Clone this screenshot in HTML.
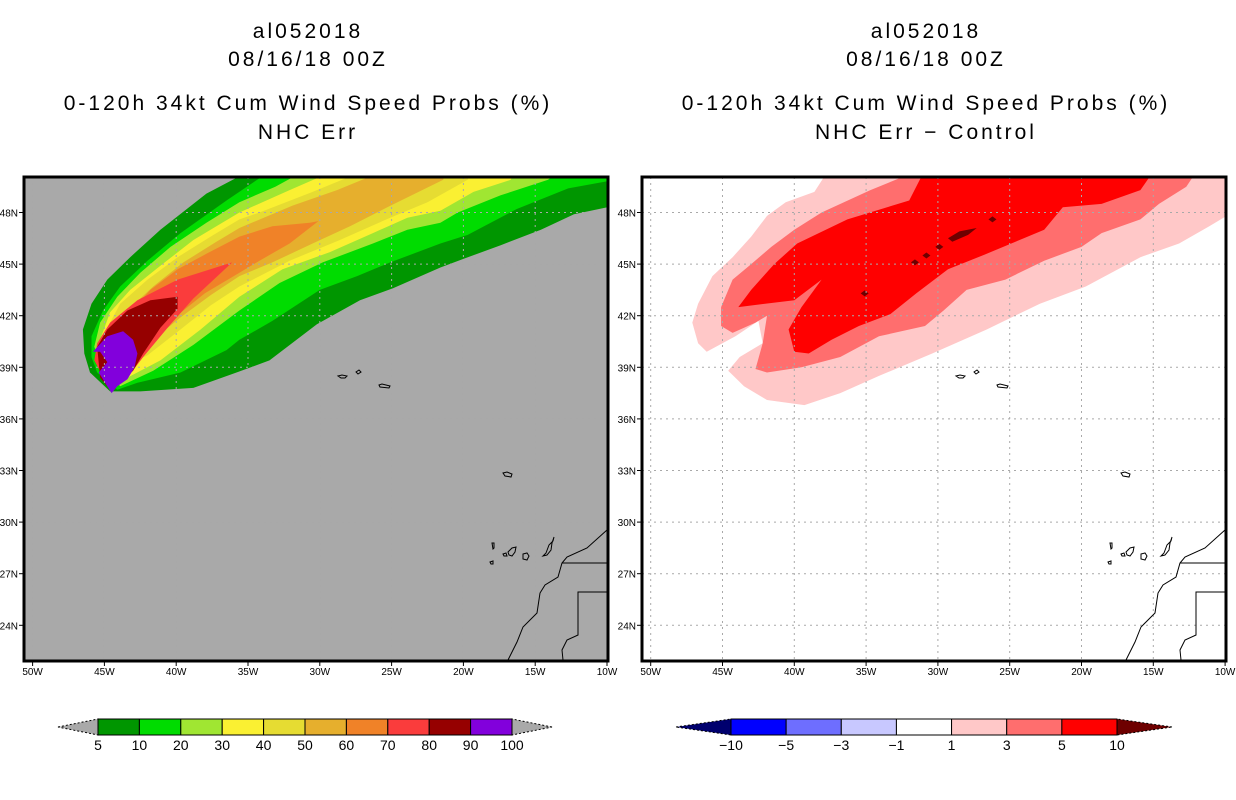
<!DOCTYPE html>
<html><head><meta charset="utf-8">
<style>
html,body{margin:0;padding:0;background:#fff;}
svg{display:block;}
text{font-family:"Liberation Sans",sans-serif;fill:#000;}
.ttl{font-size:21px;text-anchor:middle;letter-spacing:3px;}
.tk{font-size:10px;}
.cb{font-size:14px;text-anchor:middle;}
</style></head>
<body>
<svg id="chart" width="1236" height="800" viewBox="0 0 1236 800" xmlns="http://www.w3.org/2000/svg">
<defs>
<clipPath id="clipL"><rect x="24" y="177" width="584" height="484"/></clipPath>
<clipPath id="clipR"><rect x="642" y="177" width="584" height="484"/></clipPath>
</defs>
<g>
<text class="ttl" x="308" y="38">al052018</text>
<text class="ttl" x="308" y="66">08/16/18 00Z</text>
<text class="ttl" x="308" y="110">0-120h 34kt Cum Wind Speed Probs (%)</text>
<text class="ttl" x="308" y="139">NHC Err</text>
</g>
<g>
<text class="ttl" x="926" y="38">al052018</text>
<text class="ttl" x="926" y="66">08/16/18 00Z</text>
<text class="ttl" x="926" y="110">0-120h 34kt Cum Wind Speed Probs (%)</text>
<text class="ttl" x="926" y="139">NHC Err − Control</text>
</g>
<rect x="24" y="177" width="584" height="484" fill="#a9a9a9"/>
<rect x="642" y="177" width="584" height="484" fill="#ffffff"/>
<g id="leftFill" clip-path="url(#clipL)"></g>
<g id="rightFill" clip-path="url(#clipR)"></g>
<g id="grids"></g>
<g id="coasts"></g>
<g id="axes"></g>
<g id="cbars"></g>
</svg>
<script>
// ---- data (lon, lat) ----
const leftLevels = [5,10,20,30,40,50,60,70,80,90,100];
const leftColors = ["#009600","#00dc00","#a0e632","#faf032","#e6dc32","#e6af2d","#f08228","#fa3c3c","#960000","#8200dc"];
const poly5 = [[-34.7,50.5],[-37.9,49.1],[-41.1,47.0],[-43.2,45.4],[-44.8,44.1],[-45.9,42.7],[-46.5,41.2],[-46.4,39.8],[-46.0,38.7],[-44.6,37.6],[-42.5,37.6],[-38.8,37.8],[-35.8,38.7],[-33.5,39.4],[-30.2,41.5],[-27.2,42.9],[-24.9,43.6],[-21.6,44.8],[-20.0,45.3],[-17.4,46.1],[-14.6,47.0],[-12.3,47.9],[-9.4,48.4],[-9.4,50.5]];
const poly10 = [[-33.3,50.5],[-36.5,48.7],[-39.7,46.8],[-42.0,45.2],[-43.9,43.7],[-45.1,42.3],[-45.9,40.8],[-45.9,39.6],[-45.5,38.7],[-44.1,37.7],[-42.7,38.1],[-39.7,38.7],[-36.5,40.0],[-35.6,40.6],[-33.3,41.7],[-30.0,43.5],[-27.4,44.3],[-25.1,45.1],[-21.6,46.2],[-19.7,46.7],[-16.3,48.2],[-12.7,49.4],[-9.4,49.9],[-9.4,50.5]];
const poly20 = [[-30.9,50.5],[-33.1,49.5],[-35.6,48.6],[-37.9,47.4],[-40.4,46.0],[-42.5,44.5],[-44.1,43.1],[-45.3,41.6],[-45.7,40.2],[-45.3,39.3],[-43.9,37.9],[-41.6,38.8],[-38.8,40.3],[-35.6,42.3],[-32.8,43.9],[-29.8,45.1],[-26.3,46.2],[-23.9,47.0],[-21.6,47.4],[-20.4,48.0],[-17.4,49.0],[-14.1,49.9],[-13.2,50.5]];
const poly30 = [[-28.8,50.5],[-32.1,49.3],[-35.6,48.0],[-38.8,46.4],[-41.1,44.9],[-43.2,43.5],[-44.6,42.2],[-45.3,40.6],[-45.3,39.6],[-44.8,38.8],[-43.4,38.4],[-41.1,39.4],[-38.3,41.2],[-35.6,43.1],[-32.6,44.7],[-29.3,45.7],[-26.3,46.8],[-23.9,47.7],[-21.6,48.1],[-19.3,49.2],[-16.7,49.9],[-16.4,50.5]];
const poly40 = [[-26.7,50.5],[-30.5,49.2],[-34.2,48.0],[-35.6,47.6],[-37.4,46.7],[-39.9,45.4],[-42.0,44.1],[-43.9,42.7],[-44.8,41.3],[-45.2,40.2],[-45.0,39.3],[-44.1,38.8],[-42.0,39.7],[-39.7,41.2],[-37.6,42.6],[-35.6,43.7],[-32.1,45.2],[-28.6,46.4],[-25.1,47.7],[-22.5,48.6],[-19.7,49.9],[-19.5,50.5]];
const poly50 = [[-25.3,50.5],[-28.8,49.3],[-31.9,48.4],[-35.6,47.1],[-37.2,46.3],[-39.5,45.1],[-41.6,43.7],[-43.4,42.3],[-44.4,41.0],[-44.8,40.0],[-44.4,39.3],[-43.4,39.5],[-41.6,40.6],[-39.7,41.9],[-37.6,43.2],[-35.6,44.3],[-33.3,45.1],[-30.5,46.2],[-27.9,47.2],[-25.3,48.3],[-21.4,49.9],[-21.3,50.5]];
const poly60 = [[-30.1,47.5],[-30.7,47.4],[-33.3,47.2],[-35.6,46.6],[-37.9,45.6],[-39.9,44.7],[-41.8,43.5],[-43.2,42.2],[-44.3,40.9],[-44.6,39.7],[-44.3,39.0],[-43.2,39.1],[-41.8,40.3],[-40.1,41.9],[-38.0,43.3],[-35.6,44.5],[-34.2,45.2],[-32.1,46.2]];
const poly70 = [[-36.1,45.1],[-39.9,44.1],[-42.7,42.9],[-44.6,41.6],[-45.5,40.4],[-45.7,39.4],[-45.0,38.3],[-44.4,37.8],[-43.4,38.4],[-42.3,39.6],[-40.6,41.3],[-38.8,43.0]];
const poly80 = [[-39.9,43.1],[-39.9,42.4],[-41.1,41.3],[-42.3,39.8],[-43.0,38.8],[-43.9,38.1],[-44.6,37.7],[-45.3,38.4],[-45.5,40.2],[-44.8,41.2],[-43.4,42.3],[-41.8,42.9]];
const poly90 = [[-43.7,41.1],[-43.0,40.6],[-42.7,39.8],[-42.9,39.0],[-43.4,38.3],[-44.1,37.9],[-44.5,37.5],[-45.1,38.3],[-45.4,38.7],[-44.8,39.3],[-45.3,39.9],[-45.8,39.9],[-44.8,40.8]];

const rightLevels = [-10,-5,-3,-1,1,3,5,10];
const rightColors = ["#0000ff","#6e6eff","#c8c8ff","#ffffff","#ffc8c8","#ff6e6e","#ff0000"];
const diff1 = [[-37.6,50.5],[-38.6,49.2],[-40.6,48.6],[-41.9,47.8],[-43.0,46.6],[-44.3,45.4],[-45.7,44.3],[-46.7,42.7],[-47.1,41.6],[-46.7,40.4],[-46.1,39.9],[-44.1,40.8],[-42.5,41.7],[-42.2,40.4],[-43.8,39.6],[-44.6,38.8],[-43.5,37.9],[-41.9,37.1],[-39.3,36.8],[-36.8,37.5],[-34.1,38.5],[-30.4,39.8],[-26.6,41.2],[-22.9,42.7],[-19.7,43.7],[-15.9,45.4],[-13.2,46.2],[-11.1,47.2],[-9.5,48.0],[-9.4,50.5]];
const diff3 = [[-31.2,50.5],[-34.7,49.3],[-38.1,48.0],[-40.0,47.0],[-41.6,46.0],[-43.0,45.0],[-44.3,44.1],[-45.1,42.5],[-45.1,41.4],[-44.3,41.0],[-42.7,41.6],[-41.9,42.0],[-42.2,40.4],[-42.7,38.9],[-41.9,38.7],[-39.5,39.0],[-36.8,39.6],[-34.1,40.8],[-30.9,41.4],[-29.6,42.3],[-28.0,43.5],[-25.3,44.1],[-22.6,45.2],[-20.0,46.0],[-18.6,46.8],[-15.9,47.6],[-14.6,48.5],[-12.7,49.5],[-11.9,50.5]];
const diff5 = [[-14.9,50.5],[-15.9,49.3],[-18.6,48.5],[-21.3,48.3],[-22.6,47.0],[-26.6,45.6],[-29.3,44.7],[-31.5,43.3],[-33.3,42.1],[-35.5,41.4],[-37.4,40.6],[-39.0,39.8],[-40.0,39.9],[-40.4,41.2],[-39.5,42.5],[-38.1,44.1],[-40.0,42.9],[-43.9,42.5],[-43.0,43.5],[-41.4,45.0],[-39.8,46.2],[-36.3,47.6],[-32.0,48.7],[-30.9,50.5]];
const diff10 = [[-29.3,46.5],[-28.5,46.9],[-27.3,47.1],[-27.9,46.7],[-29.0,46.3]];
const diff10Spots = [[-31.6,45.1],[-30.8,45.5],[-29.9,46.0],[-26.2,47.6],[-35.1,43.3]];

const latTicks = [24,27,30,33,36,39,42,45,48];
const lonTicks = [-50,-45,-40,-35,-30,-25,-20,-15,-10];

// ---- axes ----
const NS = "http://www.w3.org/2000/svg";
function xL(lon){ return 32.6 + (lon + 50) * 14.36; }
function xR(lon){ return 650.7 + (lon + 50) * 14.36; }
function yLat(lat){ return 212.5 + (48 - lat) * 17.2; }
function mk(tag, attrs, parent){
  const e = document.createElementNS(NS, tag);
  for (const k in attrs) e.setAttribute(k, attrs[k]);
  parent.appendChild(e); return e;
}
function pts(poly, xf){ return poly.map(p => xf(p[0]).toFixed(1) + "," + yLat(p[1]).toFixed(1)).join(" "); }

const leftFill = document.getElementById("leftFill");
const leftPolys = [poly5,poly10,poly20,poly30,poly40,poly50,poly60,poly70,poly80,poly90];
leftPolys.forEach((poly, i) => {
  const e = mk("polygon", {points: pts(poly, xL), fill: leftColors[i]}, leftFill);
  
  
});

const rightFill = document.getElementById("rightFill");
[[diff1,"#ffc8c8",1],[diff3,"#ff6e6e",3],[diff5,"#ff0000",5],[diff10,"#6e0000",10]].forEach(d => {
  const e = mk("polygon", {points: pts(d[0], xR), fill: d[1]}, rightFill);
  
  
});
diff10Spots.forEach(s => {
  const cx = xR(s[0]), cy = yLat(s[1]);
  const e = mk("polygon", {points: `${cx-4},${cy} ${cx},${cy-3} ${cx+4},${cy} ${cx},${cy+3}`, fill: "#6e0000"}, rightFill);
  
  
});

// grids
const grids = document.getElementById("grids");
[[xL,24,608,"clipL"],[xR,642,1226,"clipR"]].forEach(p => {
  const g = mk("g", {"clip-path": "url(#" + p[3] + ")", stroke: "#a9a9a9", "stroke-width": 1, "stroke-dasharray": "2,4"}, grids);
  lonTicks.forEach(l => { const x = p[0](l); const e = mk("line", {x1: x, x2: x, y1: 177, y2: 661}, g);
      });
  latTicks.forEach(l => { const y = yLat(l); const e = mk("line", {x1: p[1], x2: p[2], y1: y, y2: y}, g);
      });
});

// coastlines (panel-local pixel paths)
const coastPaths = [
  "M314,199 l4,-1 l5,1 l-2,2 l-4,0 z",
  "M332,195 l3,-2 l2,2 l-3,2 z",
  "M355,208 l3,-1 l8,2 l-1,2 l-9,-1 z",
  "M479,296 l4,-1 l5,2 l-1,3 l-6,-1 z",
  "M468,366 l2,0 l0,5 l-1,1 z",
  "M479,377 l3,-1 l1,3 l-3,0 z",
  "M484,375 l4,-4 l4,-1 l-1,5 l-3,4 l-3,-1 z",
  "M499,377 l4,-1 l2,3 l-2,4 l-4,-1 z",
  "M519,379 l3,-3 l3,-8 l4,-4 l1,-4 l-2,6 l-1,7 l-4,5 z",
  "M466,385 l3,-1 l0,3 l-2,0 z",
  "M583,353 L563,371 L543,380 L538,386 L534,400 L521,408 L516,416 L513,436 L499,450 L493,465 L484,483",
  "M538,386 L583,386",
  "M583,415 L554,415 L554,458 L543,463 L538,473 L539,483"
];
const coasts = document.getElementById("coasts");
[[24,177,"left"],[642,177,"right"]].forEach(o => {
  const g = mk("g", {transform: `translate(${o[0]},${o[1]})`, fill: "none", stroke: "#000", "stroke-width": 1}, coasts);
  
  
  coastPaths.forEach(d => mk("path", {d: d}, g));
});

// axes
const axes = document.getElementById("axes");
[[xL,24,608,"left"],[xR,642,1226,"right"]].forEach(p => {
  const f = mk("rect", {x: p[1], y: 177, width: p[2]-p[1], height: 484, fill: "none", stroke: "#000", "stroke-width": 3}, axes);
   
  latTicks.forEach(l => {
    const y = yLat(l);
    mk("line", {x1: p[1]-5, x2: p[1], y1: y, y2: y, stroke: "#000", "stroke-width": 1}, axes);
    const t = mk("text", {x: p[1]-6, y: y+4, class: "tk", "text-anchor": "end"}, axes);
    t.textContent = l + "N";
     
  });
  lonTicks.forEach(l => {
    const x = p[0](l);
    mk("line", {x1: x, x2: x, y1: 661, y2: 666, stroke: "#000", "stroke-width": 1}, axes);
    const t = mk("text", {x: x, y: 675, class: "tk", "text-anchor": "middle"}, axes);
    t.textContent = Math.abs(l) + "W";
     
  });
});

// colorbars
const cbars = document.getElementById("cbars");
function colorbar(x0, x1, tipL, tipR, colors, labels, triL, triR, name){
  const g = mk("g", {}, cbars);
   
  const y0 = 719, y1 = 735, ym = 727, w = (x1 - x0) / colors.length;
  mk("polygon", {points: `${tipL},${ym} ${x0},${y0} ${x0},${y1}`, fill: triL, stroke: "#000", "stroke-width": 1, "stroke-dasharray": "2,2"}, g);
  mk("polygon", {points: `${tipR},${ym} ${x1},${y0} ${x1},${y1}`, fill: triR, stroke: "#000", "stroke-width": 1, "stroke-dasharray": "2,2"}, g);
  colors.forEach((c, i) => {
    const r = mk("rect", {x: x0 + i*w, y: y0, width: w, height: y1-y0, fill: c, stroke: "#000", "stroke-width": 1}, g);
     
  });
  labels.forEach((l, i) => {
    const t = mk("text", {x: x0 + i*w, y: 750, class: "cb"}, g);
    t.textContent = l < 0 ? "−" + Math.abs(l) : String(l);
     
  });
}
colorbar(98, 512, 58, 552, leftColors, leftLevels, "#a9a9a9", "#a9a9a9", "left-colorbar");
colorbar(731, 1117, 676, 1172, rightColors, rightLevels, "#00006e", "#6e0000", "right-colorbar");
</script>
</body></html>
